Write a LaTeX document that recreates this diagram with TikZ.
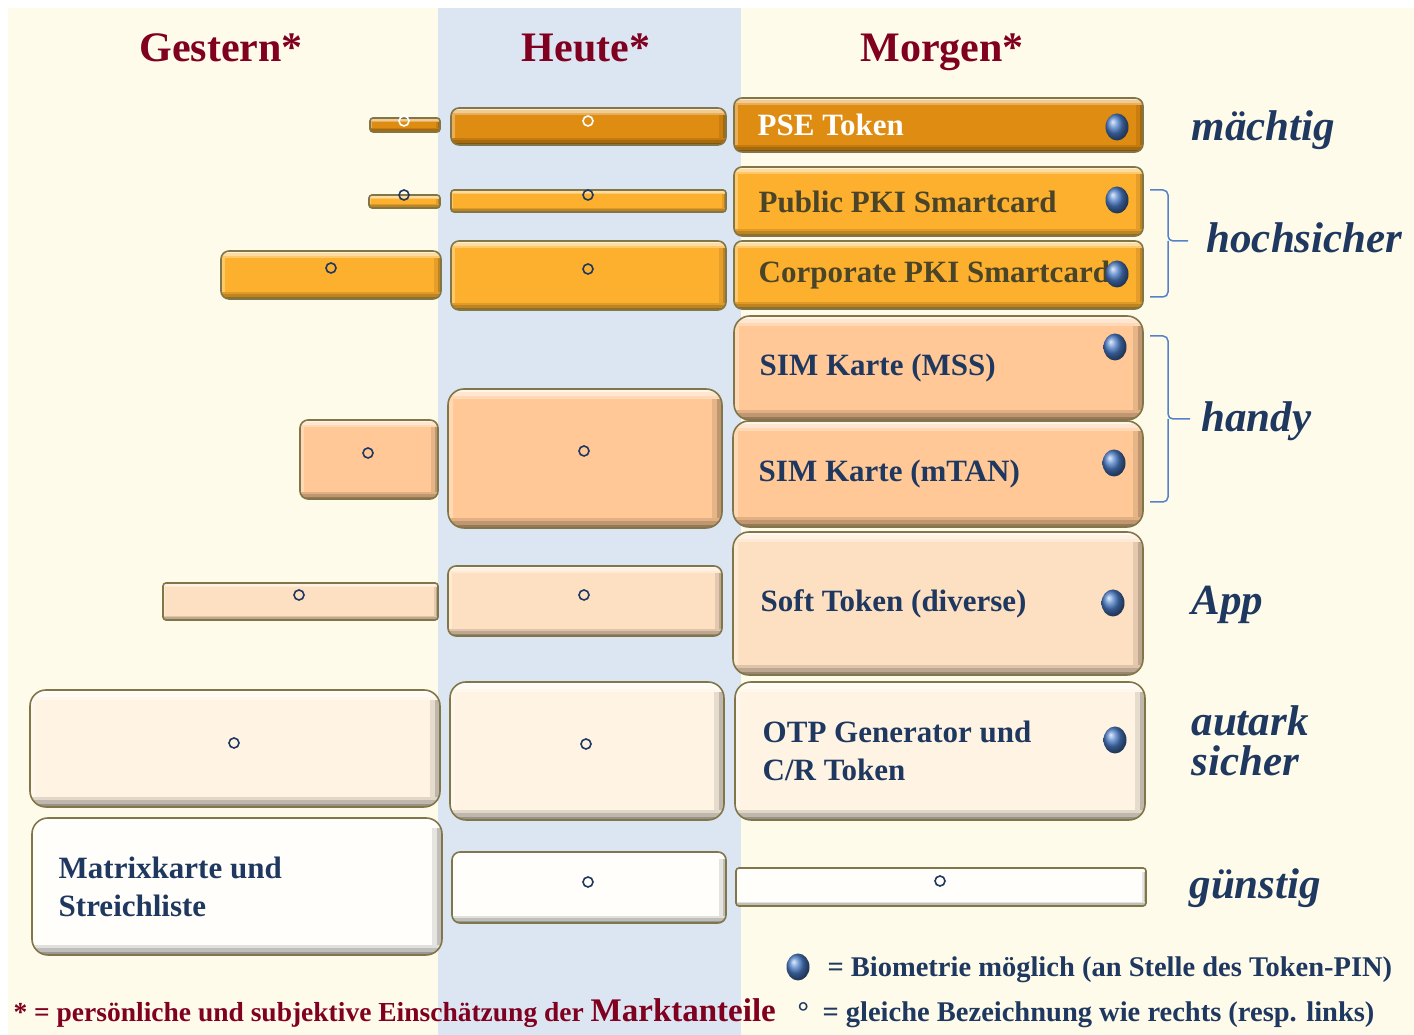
\documentclass[tikz,border=0pt]{standalone}
\usepackage{fontspec}
\setmainfont{Liberation Serif}
\usepackage{tikz}
\usetikzlibrary{positioning, shapes.geometric}

\definecolor{creambg}{RGB}{255,251,235}
\definecolor{todaybg}{RGB}{220,230,242}
\definecolor{headred}{RGB}{128,0,32}
\definecolor{inkblue}{RGB}{31,56,96}
\definecolor{inkolive}{RGB}{74,68,40}
\definecolor{barline}{RGB}{128,118,72}
\definecolor{psecol}{RGB}{222,140,18}
\definecolor{pkicol}{RGB}{253,176,45}
\definecolor{simcol}{RGB}{255,200,150}
\definecolor{softcol}{RGB}{253,223,193}
\definecolor{otpcol}{RGB}{255,244,228}
\definecolor{matcol}{RGB}{255,254,250}
\definecolor{bracecol}{RGB}{84,130,200}
\definecolor{spherecol}{RGB}{75,125,200}

% bevel width in picture units (1 unit = 1pt)
\tikzset{
  bevel/.store in=\bevelsize, bevel=10,
  bar/.style={draw=barline, line width=1.6pt, fill=#1, inner sep=0pt, rounded corners=16pt,
    path picture={
      \fill[#1!70!white, sharp corners]
        (path picture bounding box.south west) rectangle ++(0.5*\bevelsize,2000);
      \foreach \f/\c in {1/90,0.5/75} {
        \fill[#1!\c!black, sharp corners]
          (path picture bounding box.north east) rectangle ++(-\f*\bevelsize,-2000);
      }
      \foreach \f/\c in {1/70,0.66/45,0.33/20} {
        \fill[#1!\c!white, sharp corners]
          (path picture bounding box.north east) rectangle ++(-2000,-\f*\bevelsize);
      }
      \foreach \f/\c in {1/88,0.66/75,0.33/60} {
        \fill[#1!\c!black, sharp corners]
          (path picture bounding box.south west) rectangle ++(2000,\f*\bevelsize);
      }
    }},
  thinbar/.style={rounded corners=3pt, bevel=4},
  midbar/.style={rounded corners=8pt, bevel=7},
  ringmark/.style={circle, draw=inkblue, line width=1.6pt, minimum size=10pt, inner sep=0pt},
  biosphere/.style={ellipse, shading=ball, ball color=spherecol, minimum width=23pt, minimum height=27pt, inner sep=0pt},
  boxtext/.style={anchor=west, align=left, text=inkblue, font=\bfseries\fontsize{31}{38}\selectfont},
  colhead/.style={anchor=base, text=headred, font=\bfseries\fontsize{42}{48}\selectfont},
  sidelabel/.style={anchor=base west, align=left, text=inkblue, font=\bfseries\itshape\fontsize{43}{40}\selectfont},
  legendtext/.style={anchor=base west, text=inkblue, font=\bfseries\fontsize{28.5}{30}\selectfont},
  bracket/.style={draw=bracecol, line width=1.5pt, rounded corners=5pt}
}

\begin{document}
\begin{tikzpicture}[x=1pt, y=1pt]
    \useasboundingbox (0,0) rectangle (1414,1035);

    % Background
    \fill[white] (0,0) rectangle (1414,1035);
    \fill[creambg] (8,0) rectangle (1414,1027);
    \fill[todaybg] (438,0) rectangle (741,1027);

    % Column heads
    \node[colhead] (gestern) at (221,973) {Gestern*};
    \node[colhead] (heute) at (586,973) {Heute*};
    \node[colhead] (morgen) at (942,973) {Morgen*};

    % Gestern
    \node[bar=psecol, thinbar, minimum width=70pt, minimum height=14pt] (g1) at (405,910) {};
    \node[bar=pkicol, thinbar, minimum width=71pt, minimum height=13pt] (g2) at (404.5,833.5) {};
    \node[bar=pkicol, midbar, minimum width=220pt, minimum height=48pt] (g3) at (331,760) {};
    \node[bar=simcol, midbar, minimum width=138pt, minimum height=79pt] (g4) at (369,575.5) {};
    \node[bar=softcol, thinbar, minimum width=275pt, minimum height=37pt] (g5) at (300.5,433.5) {};
    \node[bar=otpcol, minimum width=410pt, minimum height=117pt] (g6) at (235,286.5) {};
    \node[bar=matcol, minimum width=410pt, minimum height=137pt] (g7) at (237,148.5) {};

    % Heute
    \node[bar=psecol, midbar, minimum width=275pt, minimum height=37pt] (h1) at (588.5,908.5) {};
    \node[bar=pkicol, thinbar, minimum width=275pt, minimum height=22pt] (h2) at (588.5,834) {};
    \node[bar=pkicol, midbar, minimum width=275pt, minimum height=69pt] (h3) at (588.5,759.5) {};
    \node[bar=simcol, minimum width=274pt, minimum height=139pt] (h4) at (585,576.5) {};
    \node[bar=softcol, midbar, minimum width=274pt, minimum height=70pt] (h5) at (585,434) {};
    \node[bar=otpcol, minimum width=274pt, minimum height=138pt] (h6) at (587,284) {};
    \node[bar=matcol, midbar, minimum width=274pt, minimum height=71pt] (h7) at (589,147.5) {};

    % Morgen
    \node[bar=psecol, midbar, minimum width=409pt, minimum height=54pt] (m1) at (938.5,910) {};
    \node[bar=pkicol, midbar, minimum width=409pt, minimum height=69pt] (m2) at (938.5,833.5) {};
    \node[bar=pkicol, midbar, minimum width=409pt, minimum height=68pt] (m3) at (938.5,760) {};
    \node[bar=simcol, minimum width=409pt, minimum height=104pt] (m4) at (938.5,667) {};
    \node[bar=simcol, minimum width=410pt, minimum height=106pt] (m5) at (938,561) {};
    \node[bar=softcol, minimum width=410pt, minimum height=143pt] (m6) at (938,431.5) {};
    \node[bar=otpcol, minimum width=410pt, minimum height=138pt] (m7) at (940,284) {};
    \node[bar=matcol, thinbar, minimum width=410pt, minimum height=38pt] (m8) at (941,148) {};

    % Box texts
    \node[boxtext, text=white, right=21pt of m1.west] (t1) {PSE Token};
    \node[boxtext, text=inkolive, right=22pt of m2.west] (t2) {Public PKI Smartcard};
    \node[boxtext, text=inkolive, right=22pt of m3.west] (t3) {Corporate PKI Smartcard};
    \node[boxtext, right=23pt of m4.west] (t4) {SIM Karte (MSS)};
    \node[boxtext, right=23pt of m5.west] (t5) {SIM Karte (mTAN)};
    \node[boxtext, right=25pt of m6.west] (t6) {Soft Token (diverse)};
    \node[boxtext, right=25pt of m7.west] (t7) {OTP Generator und\\C/R Token};
    \node[boxtext, right=24pt of g7.west] (t8) {Matrixkarte und\\Streichliste};

    % Same name marks
    \node[ringmark, draw=white] (o1) at (404,914) {};
    \node[ringmark, draw=white] (o2) at (588,914) {};
    \node[ringmark] (o3) at (404,840) {};
    \node[ringmark] (o4) at (588,840) {};
    \node[ringmark] (o5) at (331,767) {};
    \node[ringmark] (o6) at (588,766) {};
    \node[ringmark] (o7) at (368,582) {};
    \node[ringmark] (o8) at (584,584) {};
    \node[ringmark] (o9) at (299,440) {};
    \node[ringmark] (o10) at (584,440) {};
    \node[ringmark] (o11) at (234,292) {};
    \node[ringmark] (o12) at (586,291) {};
    \node[ringmark] (o13) at (588,153) {};
    \node[ringmark] (o14) at (940,154) {};

    % Biometrie
    \node[biosphere] (s1) at (1117,908) {};
    \node[biosphere] (s2) at (1117,835) {};
    \node[biosphere] (s3) at (1117,761) {};
    \node[biosphere] (s4) at (1115,688) {};
    \node[biosphere] (s5) at (1114,572) {};
    \node[biosphere] (s6) at (1113,432) {};
    \node[biosphere] (s7) at (1115,295) {};

    % Brackets
    \draw[bracket] (1150,845) -- (1168,845) -- (1168,794) -- (1188,794);
    \draw[bracket] (1150,738) -- (1168,738) -- (1168,794);
    \draw[bracket] (1150,699) -- (1168,699) -- (1168,616) -- (1190,616);
    \draw[bracket] (1150,533) -- (1168,533) -- (1168,616);

    % Side labels
    \node[sidelabel] (l1) at (1188,894) {mächtig};
    \node[sidelabel] (l2) at (1203,782) {hochsicher};
    \node[sidelabel] (l3) at (1198,603) {handy};
    \node[sidelabel] (l4) at (1188,420) {App};
    \node[sidelabel, anchor=west] (l5) at (1188,294) {autark\\sicher};
    \node[sidelabel] (l6) at (1186,136) {günstig};

    % Legend
    \node[biosphere] (s8) at (798,68) {};
    \node[legendtext] (k1) at (824,58) {= Biometrie möglich (an Stelle des Token-PIN)};
    \node[legendtext] (k2) at (794,13) {°};
    \node[legendtext] (k3) at (819,13) {= gleiche Bezeichnung wie rechts (resp. links)};
    \node[legendtext, text=headred, font=\bfseries\fontsize{27.5}{30}\selectfont] (k4) at (10,13)
        {* = persönliche und subjektive Einschätzung der {\fontsize{33}{30}\selectfont Marktanteile}};
\end{tikzpicture}
\end{document}
